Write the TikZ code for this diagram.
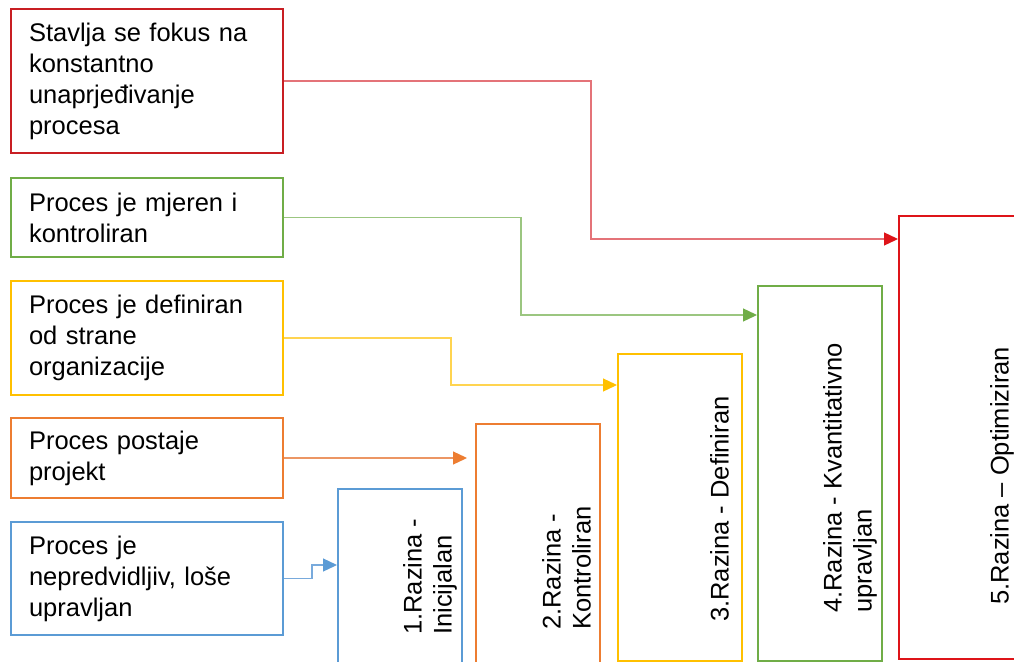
\documentclass[tikz,border=0pt]{standalone}
\usepackage{fontspec}
\setmainfont{Liberation Sans}
\usetikzlibrary{arrows.meta,calc}
\definecolor{redL}{RGB}{200,30,35}
\definecolor{redR}{RGB}{222,20,25}
\definecolor{greenB}{RGB}{112,173,71}
\definecolor{yellowB}{RGB}{255,192,0}
\definecolor{orangeB}{RGB}{237,125,49}
\definecolor{blueB}{RGB}{91,155,213}
\definecolor{redLine}{RGB}{228,115,120}
\definecolor{greenLine}{RGB}{155,198,128}
\definecolor{yellowLine}{RGB}{255,212,80}
\definecolor{orangeLine}{RGB}{236,150,100}
\definecolor{blueLine}{RGB}{120,170,220}
\begin{document}
\begin{tikzpicture}[x=1pt,y=-1pt,
  lbox/.style={draw, line width=2pt, minimum width=272pt, text width=236pt,
    align=left, inner xsep=18pt, inner ysep=0pt,
    font=\fontsize{25.5}{31}\selectfont},
  rbox/.style={draw, line width=2pt, minimum width=124pt, anchor=north west, inner sep=0pt},
  rot/.style={rotate=90, anchor=north west, inner sep=0pt, align=left,
    font=\fontsize{25.5}{30}\selectfont},
  conn/.style={line width=1.3pt},
]
\fill[white] (0,0) rectangle (1014,661);
\useasboundingbox (0,0) rectangle (1014,661);

% left description boxes
\node[lbox, draw=redL, minimum height=144pt] (t5) at (147,81)
  {Stavlja se fokus na\\konstantno\\unaprjeđivanje\\procesa};
\node[lbox, draw=greenB, minimum height=79pt] (t4) at (147,217.5)
  {Proces je mjeren i\\kontroliran};
\node[lbox, draw=yellowB, minimum height=114pt] (t3) at (147,338)
  {Proces je definiran\\od strane\\organizacije};
\node[lbox, draw=orangeB, minimum height=80pt] (t2) at (147,458)
  {Proces postaje\\projekt};
\node[lbox, draw=blueB, minimum height=113pt] (t1) at (147,578.5)
  {Proces je\\nepredvidljiv, loše\\upravljan};

% level boxes
\node[rbox, draw=blueB, minimum height=175pt] (b1) at (337,488) {};
\node[rbox, draw=orangeB, minimum height=240pt] (b2) at (475,423) {};
\node[rbox, draw=yellowB, minimum height=307pt] (b3) at (617,353) {};
\node[rbox, draw=greenB, minimum height=375pt] (b4) at (757,285) {};
\node[rbox, draw=redR, minimum width=140pt, minimum height=443pt] (b5) at (898,215) {};

% level labels
\node[rot] (l1) at (403,635) {1.Razina -\\Inicijalan};
\node[rot] (l2) at (542,630) {2.Razina -\\Kontroliran};
\node[rot] (l3) at (710,622) {3.Razina - Definiran};
\node[rot] (l4) at (823,613) {4.Razina - Kvantitativno\\upravljan};
\node[rot] (l5) at (990,605) {5.Razina – Optimiziran};

% connectors
\coordinate (r5) at (591,0);
\coordinate (r4) at (521,0);
\coordinate (r3) at (451,0);
\coordinate (r1) at (312,0);
\coordinate (e5) at ($(b5.north west)+(0,24)$);
\coordinate (e4) at ($(b4.north west)+(0,30)$);
\coordinate (e3) at ($(b3.north west)+(0,32)$);
\coordinate (e2) at ($(b2.north west)+(-8,0)$);
\coordinate (e1) at ($(b1.north west)+(0,77)$);

\draw[conn, redLine, -{Triangle[length=14pt,width=13pt,color=redR]}]
  (t5.east) -- (t5.east -| r5) |- (e5);
\draw[conn, greenLine, -{Triangle[length=14pt,width=13pt,color=greenB]}]
  (t4.east) -- (t4.east -| r4) |- (e4);
\draw[conn, yellowLine, -{Triangle[length=14pt,width=13pt,color=yellowB]}]
  (t3.east) -- (t3.east -| r3) |- (e3);
\draw[conn, orangeLine, -{Triangle[length=14pt,width=13pt,color=orangeB]}]
  (t2.east) -- (t2.east -| e2);
\draw[conn, blueLine, -{Triangle[length=14pt,width=13pt,color=blueB]}]
  (t1.east) -- (t1.east -| r1) |- (e1);
\end{tikzpicture}
\end{document}
